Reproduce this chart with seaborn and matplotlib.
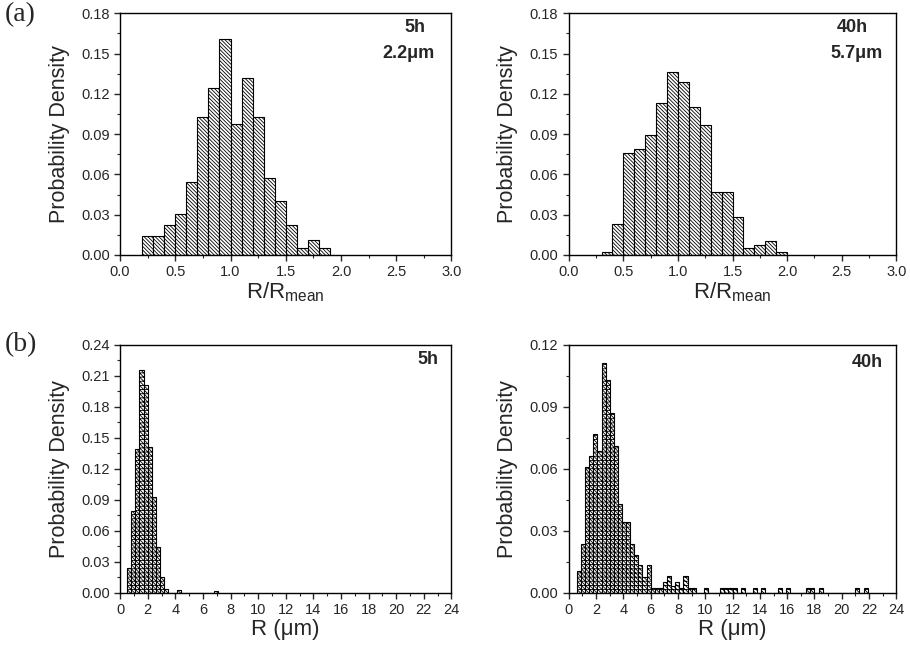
"""Particle size distributions after 5h and 40h (normalised and absolute radius)."""

import matplotlib

matplotlib.use("Agg")
import matplotlib.pyplot as plt
import numpy as np
import seaborn as sns
from matplotlib.ticker import AutoMinorLocator, FormatStrFormatter, MultipleLocator

# (a) normalised radius R/R_mean, bins of 0.1
NORM_BIN_WIDTH = 0.1
NORM_5H_START = 0.2
NORM_5H_DENSITY = [0.014, 0.014, 0.022, 0.0305, 0.054, 0.103, 0.124, 0.161, 0.0975,
                   0.132, 0.103, 0.057, 0.040, 0.0225, 0.005, 0.011, 0.005]
NORM_40H_START = 0.3
NORM_40H_DENSITY = [0.0025, 0.0234, 0.0762, 0.0787, 0.089, 0.113, 0.1365, 0.1286, 0.110,
                    0.097, 0.0467, 0.0467, 0.0283, 0.005, 0.0074, 0.0103, 0.0025]

# (b) absolute radius R in um, bins of 0.3
R_BIN_WIDTH = 0.3
R_5H_START = 0.5
R_5H_DENSITY = [0.024, 0.079, 0.139, 0.216, 0.201, 0.141, 0.093, 0.044, 0.015, 0.004,
                0.0, 0.0, 0.003, 0.0, 0.0, 0.0, 0.0, 0.0, 0.0, 0.0, 0.0, 0.0015]
R_40H_START = 0.6
R_40H_DENSITY = [0.0106, 0.0237, 0.061, 0.066, 0.0767, 0.0687, 0.111, 0.103, 0.087, 0.071,
                 0.043, 0.0345, 0.0345, 0.0237, 0.0185, 0.0133, 0.0077, 0.0133,
                 0.0024, 0.0024, 0.0024, 0.0055, 0.0084, 0.0032, 0.0055, 0.0024, 0.008,
                 0.0024, 0.0024, 0.0, 0.0, 0.0024, 0.0, 0.0, 0.0, 0.0024, 0.0024, 0.0024,
                 0.0024, 0.0, 0.0024, 0.0, 0.0, 0.0024, 0.0, 0.0024, 0.0, 0.0, 0.0, 0.0024,
                 0.0, 0.0024, 0.0, 0.0, 0.0, 0.0, 0.0024, 0.0024, 0.0, 0.0024, 0.0, 0.0,
                 0.0, 0.0, 0.0, 0.0, 0.0, 0.0, 0.0024, 0.0, 0.0024]

PANEL_TEXT = {
    "a5": ["5h", "2.2\u03bcm"],
    "a40": ["40h", "5.7\u03bcm"],
    "b5": ["5h"],
    "b40": ["40h"],
}


def configure_matplotlib():
    sns.set_style("ticks")
    plt.rcParams["font.family"] = ["Liberation Sans", "DejaVu Sans"]
    plt.rcParams["mathtext.default"] = "regular"
    plt.rcParams["hatch.color"] = "black"
    plt.rcParams["hatch.linewidth"] = 0.6
    plt.rcParams["axes.linewidth"] = 1.0
    plt.rcParams["xtick.direction"] = "out"
    plt.rcParams["ytick.direction"] = "out"


def _hist(ax, start, width, density, hatch):
    n = len(density)
    centers = start + width * (np.arange(n) + 0.5)
    sns.histplot(
        x=centers,
        weights=density,
        binwidth=width,
        binrange=(start, start + n * width),
        stat="count",
        element="bars",
        fill=True,
        facecolor="white",
        edgecolor="black",
        linewidth=0.8,
        alpha=1.0,
        hatch=hatch,
        ax=ax,
    )


def _style_axes(ax, xmax, xstep, xfmt, ymax, xlabel):
    ax.set_xlim(0, xmax)
    ax.set_ylim(0, ymax)
    ax.xaxis.set_major_locator(MultipleLocator(xstep))
    ax.xaxis.set_minor_locator(AutoMinorLocator(2))
    ax.yaxis.set_major_locator(MultipleLocator(0.03))
    ax.yaxis.set_minor_locator(AutoMinorLocator(2))
    ax.xaxis.set_major_formatter(FormatStrFormatter(xfmt))
    ax.yaxis.set_major_formatter(FormatStrFormatter("%.2f"))
    ax.tick_params(which="major", length=4, width=1.0, labelsize=10.5, top=False, right=False)
    ax.tick_params(which="minor", length=2, width=0.8, top=False, right=False)
    ax.set_ylabel("Probability Density", fontsize=15.5, labelpad=8)
    ax.set_xlabel(xlabel, fontsize=16, labelpad=1)
    for side in ["top", "right", "left", "bottom"]:
        ax.spines[side].set_visible(True)
        ax.spines[side].set_color("black")


def main():
    configure_matplotlib()
    fig = plt.figure(figsize=(9.1, 6.48), dpi=100)

    ax_a5 = fig.add_axes([0.132, 0.6065, 0.364, 0.373])
    ax_a40 = fig.add_axes([0.625, 0.6065, 0.360, 0.373])
    ax_b5 = fig.add_axes([0.132, 0.0849, 0.364, 0.383])
    ax_b40 = fig.add_axes([0.625, 0.0849, 0.360, 0.383])

    top_hatch = "\\" * 9
    bot_hatch = "\\" * 8 + "----"
    _hist(ax_a5, NORM_5H_START, NORM_BIN_WIDTH, NORM_5H_DENSITY, top_hatch)
    _hist(ax_a40, NORM_40H_START, NORM_BIN_WIDTH, NORM_40H_DENSITY, top_hatch)
    _hist(ax_b5, R_5H_START, R_BIN_WIDTH, R_5H_DENSITY, bot_hatch)
    _hist(ax_b40, R_40H_START, R_BIN_WIDTH, R_40H_DENSITY, bot_hatch)

    norm_label = r"R/R$_{mean}$"
    r_label = "R (\u03bcm)"
    _style_axes(ax_a5, 3.0, 0.5, "%.1f", 0.18, norm_label)
    _style_axes(ax_a40, 3.0, 0.5, "%.1f", 0.18, norm_label)
    _style_axes(ax_b5, 24, 2, "%d", 0.24, r_label)
    _style_axes(ax_b40, 24, 2, "%d", 0.12, r_label)

    bold = dict(fontsize=13, fontweight="bold", ha="center", va="center")
    ax_a5.text(0.89, 0.942, PANEL_TEXT["a5"][0], transform=ax_a5.transAxes, **bold)
    ax_a5.text(0.87, 0.835, PANEL_TEXT["a5"][1], transform=ax_a5.transAxes, **bold)
    ax_a40.text(0.866, 0.942, PANEL_TEXT["a40"][0], transform=ax_a40.transAxes, **bold)
    ax_a40.text(0.88, 0.835, PANEL_TEXT["a40"][1], transform=ax_a40.transAxes, **bold)
    ax_b5.text(0.93, 0.94, PANEL_TEXT["b5"][0], transform=ax_b5.transAxes, **bold)
    ax_b40.text(0.91, 0.93, PANEL_TEXT["b40"][0], transform=ax_b40.transAxes, **bold)

    serif = dict(fontsize=20, family=["Liberation Serif", "DejaVu Serif"], va="top", ha="left")
    fig.text(0.005, 0.997, "(a)", **serif)
    fig.text(0.005, 0.487, "(b)", **serif)

    fig.savefig("out.png", dpi=100)
    plt.close(fig)


if __name__ == "__main__":
    main()
